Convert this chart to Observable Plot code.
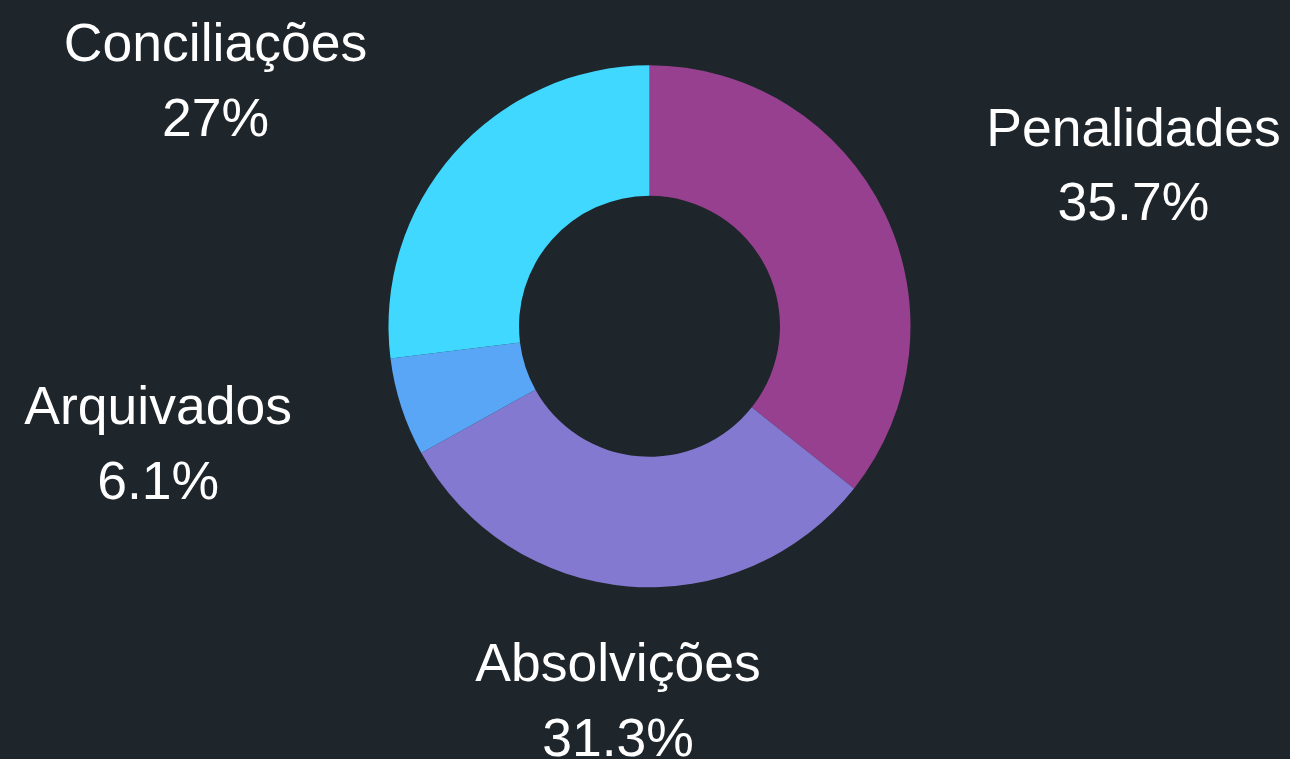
<!DOCTYPE html>
<html><head><meta charset="utf-8">
<script src="https://cdn.jsdelivr.net/npm/d3@7"></script>
<script src="https://cdn.jsdelivr.net/npm/@observablehq/plot@0.6"></script>
<style>html,body{margin:0;padding:0;background:#1e252b;overflow:hidden}</style>
</head><body><div id="chart"></div>
<script>
const categories = ["Penalidades", "Absolvições", "Arquivados", "Conciliações"];
const values = [35.7, 31.3, 6.1, 27];
const valueLabels = ["35.7%", "31.3%", "6.1%", "27%"];
const colors = ["#97408f", "#8479d0", "#59a6f6", "#40d8ff"];

const W = 1290, H = 759, cx = 649.5, cy = 326.3, rOuter = 261, rInner = 130.5, rLabel = 374;
const fontSize = 53.5, lineHeight = 1.4;
const fontFamily = '"Liberation Sans", Arial, sans-serif';

const rows = categories.map((c, i) => ({category: c, value: values[i], label: valueLabels[i], color: colors[i]}));
const arcs = d3.pie().sort(null).value(d => d.value)(rows);

const ctx = document.createElement("canvas").getContext("2d");
ctx.font = `${fontSize}px ${fontFamily}`;
const labels = arcs.map(a => {
  const mid = (a.startAngle + a.endAngle) / 2, s = Math.sin(mid), c = Math.cos(mid);
  const w = Math.max(ctx.measureText(a.data.category).width, ctx.measureText(a.data.label).width);
  const side = Math.abs(s) < 0.3 ? 0 : Math.sign(s);
  return {text: a.data.category + "\n" + a.data.label, x: cx + rLabel * s + side * (w / 2 + 1), y: cy - rLabel * c};
});

function donut(index, scales) {
  const sx = scales.x || (v => v), sy = scales.y || (v => v);
  const g = d3.create("svg:g").attr("transform", `translate(${sx(cx)},${sy(cy)})`);
  const arc = d3.arc().innerRadius(rInner).outerRadius(rOuter);
  g.selectAll("path").data(arcs).join("path").attr("d", arc).attr("fill", d => d.data.color);
  return g.node();
}

const chart = Plot.plot({
  width: W, height: H, margin: 0,
  x: {type: "identity", axis: null},
  y: {type: "identity", axis: null},
  style: {background: "#1e252b", fontFamily: fontFamily, overflow: "visible"},
  marks: [
    donut,
    Plot.text(labels, {x: "x", y: "y", dx: -1.5, dy: -5, text: "text", textAnchor: "middle", lineAnchor: "middle",
      lineHeight: lineHeight, fontSize: fontSize, fill: "white"})
  ]
});
document.getElementById("chart").append(chart);
</script>
</body></html>
